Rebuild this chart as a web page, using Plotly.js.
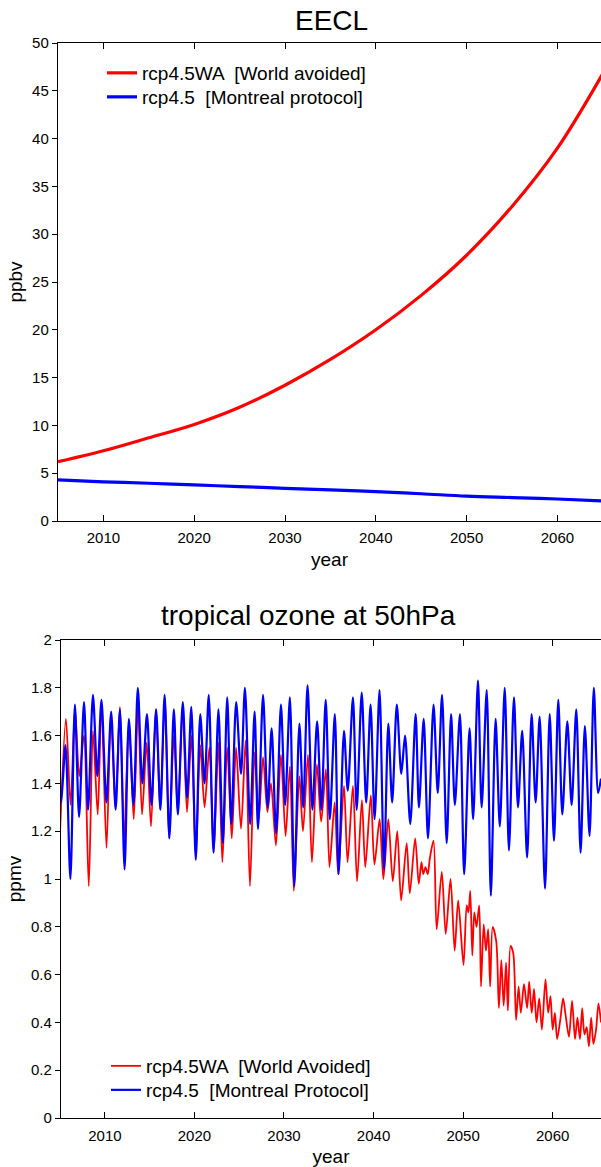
<!DOCTYPE html>
<html><head><meta charset="utf-8">
<script src="https://cdn.plot.ly/plotly-3.0.1.min.js"></script>
<style>html,body{margin:0;padding:0;background:#fff}#chart{width:601px;height:1167px}</style>
</head><body><div id="chart"></div>
<script>
// ---- EECL (ppbv), read every 5 years ----
const eeclYears = [2005, 2010, 2015, 2020, 2025, 2030, 2035, 2040, 2045, 2050, 2055, 2060, 2065];
const eeclWorldAvoided = [6.2, 7.35, 8.7, 10.1, 11.9, 14.2, 16.9, 20.0, 23.6, 27.8, 32.9, 39.0, 46.8];
const eeclMontreal = [4.3, 4.1, 3.95, 3.77, 3.6, 3.42, 3.25, 3.07, 2.85, 2.6, 2.45, 2.3, 2.1];

// ---- tropical ozone at 50hPa (ppmv), turning points ----
const ozoneMPTime = [2005.00,2005.12,2005.60,2006.15,2006.65,2007.12,2007.67,2008.12,2008.67,2009.16,2009.62,
 2010.17,2010.70,2011.20,2011.68,2012.20,2012.68,2013.20,2013.68,2014.18,2014.70,2015.20,2015.72,2016.20,2016.67,
 2017.20,2017.70,2018.15,2018.70,2019.18,2019.65,2020.15,2020.65,2021.13,2021.60,2022.13,2022.68,2023.17,2023.66,
 2024.12,2024.66,2025.20,2025.64,2026.22,2026.72,2027.10,2027.66,2028.18,2028.62,2029.12,2029.66,2030.13,2030.66,
 2031.15,2031.72,2032.15,2032.63,2033.17,2033.70,2034.17,2034.66,2035.12,2035.68,2036.10,2036.70,2037.12,2037.70,
 2038.12,2038.68,2039.18,2039.67,2040.12,2040.67,2041.17,2041.65,2042.08,2042.60,2043.10,2043.52,2044.10,2044.70,
 2045.07,2045.60,2046.08,2046.70,2047.17,2047.65,2048.17,2048.66,2049.08,2049.65,2050.12,2050.72,2051.12,2051.66,
 2052.07,2052.64,2053.10,2053.63,2054.10,2054.65,2055.12,2055.68,2056.13,2056.60,2057.15,2057.65,2058.10,2058.55,
 2059.15,2059.67,2060.15,2060.63,2061.08,2061.64,2062.12,2062.64,2063.12,2063.60,2064.12,2064.60,2065.08,2065.40];
const ozoneMP = [1.35,1.32,1.56,1.00,1.73,1.26,1.74,1.29,1.77,1.43,1.75,
 1.32,1.70,1.29,1.71,1.04,1.67,1.31,1.80,1.40,1.69,1.31,1.71,1.29,1.77,
 1.17,1.71,1.27,1.74,1.34,1.72,1.08,1.69,1.40,1.77,1.11,1.71,1.15,1.76,
 1.23,1.74,1.44,1.80,1.23,1.70,1.21,1.77,1.30,1.63,1.19,1.73,1.31,1.76,
 0.97,1.65,1.30,1.81,1.29,1.66,1.29,1.75,1.25,1.69,1.02,1.62,1.37,1.76,
 1.29,1.78,1.32,1.73,1.25,1.79,1.04,1.65,1.32,1.73,1.44,1.60,1.23,1.69,
 1.30,1.67,1.17,1.73,1.36,1.77,1.15,1.69,1.31,1.69,1.02,1.63,1.25,1.83,
 1.30,1.79,0.93,1.67,1.22,1.80,1.12,1.76,1.30,1.62,1.09,1.69,1.32,1.68,
 0.96,1.69,1.16,1.75,1.27,1.66,1.31,1.71,1.11,1.64,1.18,1.80,1.36,1.42];

const ozoneWATime = [2005.00,2005.65,2006.17,2006.66,2007.14,2007.66,2008.20,2008.67,2009.20,2009.62,
 2010.18,2010.68,2011.18,2011.68,2012.15,2012.68,2013.22,2013.70,2014.15,2014.67,2015.15,2015.70,2016.18,2016.70,
 2017.18,2017.70,2018.15,2018.67,2019.17,2019.67,2020.15,2020.65,2021.13,2021.67,2022.15,2022.68,2023.12,2023.66,
 2024.17,2024.65,2025.20,2025.72,2026.20,2026.72,2027.18,2027.66,2028.15,2028.55,2029.10,2029.66,2030.18,2030.66,
 2031.10,2031.72,2032.12,2032.68,2033.12,2033.68,2034.15,2034.68,2035.08,2035.66,2036.05,2036.70,2037.10,2037.70,
 2038.16,2038.70,2039.08,2039.70,2040.10,2040.68,2041.10,2041.65,2042.15,2042.65,2043.08,2043.70,2044.05,2044.65,
 2045.05,2045.35,2045.55,2045.80,2046.05,2046.30,2046.70,2047.05,2047.62,2048.06,2048.60,2049.06,2049.45,
 2050.05,2050.40,2050.60,2050.80,2051.03,2051.25,2051.50,2051.80,2052.00,2052.30,2052.55,2052.80,
 2053.02,2053.30,2053.70,2054.00,2054.27,2054.53,2054.80,2055.00,2055.30,2055.60,2055.92,2056.20,2056.45,2056.80,
 2057.15,2057.38,2057.66,2057.92,2058.20,2058.50,2058.80,2059.20,2059.50,2059.76,2060.00,2060.25,2060.50,2060.85,
 2061.17,2061.45,2061.82,2062.17,2062.50,2062.77,2063.05,2063.30,2063.55,2063.80,2064.05,2064.30,2064.55,2064.85,
 2065.12,2065.40];
const ozoneWA = [1.20,1.67,1.31,1.71,1.43,1.60,0.97,1.62,1.27,1.74,
 1.13,1.69,1.30,1.72,1.17,1.66,1.25,1.73,1.27,1.57,1.22,1.71,1.29,1.76,
 1.17,1.60,1.28,1.72,1.28,1.60,1.09,1.56,1.30,1.55,1.11,1.57,1.07,1.55,
 1.17,1.55,1.21,1.58,0.97,1.53,1.25,1.51,1.28,1.40,1.14,1.52,1.18,1.47,
 0.95,1.43,1.20,1.52,1.07,1.48,1.24,1.46,1.05,1.32,1.02,1.39,1.07,1.39,
 0.99,1.33,1.05,1.35,1.06,1.25,1.00,1.25,0.99,1.20,0.91,1.15,0.94,1.17,
 0.98,1.07,1.02,1.05,1.02,1.09,1.16,0.79,1.03,0.77,1.00,0.70,0.91,
 0.64,0.89,0.86,0.95,0.68,0.86,0.80,0.89,0.55,0.81,0.70,0.79,
 0.55,0.80,0.74,0.46,0.66,0.47,0.65,0.45,0.72,0.69,0.41,0.55,0.44,0.56,
 0.46,0.57,0.44,0.54,0.40,0.50,0.37,0.58,0.44,0.51,0.37,0.44,0.33,0.41,
 0.50,0.43,0.34,0.49,0.33,0.42,0.33,0.46,0.35,0.38,0.30,0.42,0.31,0.37,
 0.48,0.40];

const decadeTicks = [2010, 2020, 2030, 2040, 2050, 2060];
const legendNames = ['rcp4.5WA  [World avoided]', 'rcp4.5  [Montreal protocol]',
                     'rcp4.5WA  [World Avoided]', 'rcp4.5  [Montreal Protocol]'];
const RED = '#ff0000', BLUE = '#0000ff';
const FONT = 'Liberation Sans, Arial, sans-serif';

const traces = [
  {x: eeclYears, y: eeclWorldAvoided, xaxis: 'x', yaxis: 'y', mode: 'lines', name: legendNames[0],
   line: {color: RED, width: 3.2, shape: 'spline'}, legend: 'legend'},
  {x: eeclYears, y: eeclMontreal, xaxis: 'x', yaxis: 'y', mode: 'lines', name: legendNames[1],
   line: {color: BLUE, width: 3.2, shape: 'spline'}, legend: 'legend2'},
  {x: ozoneWATime, y: ozoneWA, xaxis: 'x2', yaxis: 'y2', mode: 'lines', name: legendNames[2],
   line: {color: RED, width: 1.8, shape: 'spline', smoothing: 0.8}, legend: 'legend3'},
  {x: ozoneMPTime, y: ozoneMP, xaxis: 'x2', yaxis: 'y2', mode: 'lines', name: legendNames[3],
   line: {color: BLUE, width: 2.2, shape: 'spline', smoothing: 0.8}, legend: 'legend4'}
];

const W = 601, H = 1167;
const axBase = {showgrid: false, zeroline: false, showline: true, linecolor: '#000', linewidth: 1.2,
  tickcolor: '#000', tickfont: {family: FONT, size: 15, color: '#000'}, automargin: false};
const legBase = {xanchor: 'left', yanchor: 'middle', bgcolor: 'rgba(0,0,0,0)', borderwidth: 0,
  font: {family: FONT, size: 19, color: '#000'}};

const layout = {
  width: W, height: H, margin: {l: 0, r: 0, t: 0, b: 0},
  paper_bgcolor: '#fff', plot_bgcolor: '#fff', font: {family: FONT, color: '#000'},
  xaxis: Object.assign({}, axBase, {domain: [58 / W, 1], range: [2005, 2064.8], tickvals: decadeTicks,
    ticks: 'inside', ticklen: 6, mirror: 'ticks', anchor: 'y', ticklabelstandoff: 3,
    title: {text: 'year', font: {family: FONT, size: 19}, standoff: 7}}),
  yaxis: Object.assign({}, axBase, {domain: [1 - 521 / H, 1 - 43 / H], range: [0, 50], dtick: 5,
    ticks: 'outside', ticklen: 5, anchor: 'x',
    title: {text: 'ppbv', font: {family: FONT, size: 19}, standoff: 4}}),
  xaxis2: Object.assign({}, axBase, {domain: [61 / W, 1], range: [2005.1, 2065.4], tickvals: decadeTicks,
    ticks: 'inside', ticklen: 6, mirror: 'ticks', anchor: 'y2', ticklabelstandoff: 4,
    title: {text: 'year', font: {family: FONT, size: 19}, standoff: 6}}),
  yaxis2: Object.assign({}, axBase, {domain: [1 - 1118 / H, 1 - 640 / H], range: [0, 2], dtick: 0.2,
    ticks: 'outside', ticklen: 5, anchor: 'x2',
    title: {text: 'ppmv', font: {family: FONT, size: 19}, standoff: 4}}),
  legend:  Object.assign({}, legBase, {x: 102 / W, y: 1 - 73 / H}),
  legend2: Object.assign({}, legBase, {x: 102 / W, y: 1 - 97 / H}),
  legend3: Object.assign({}, legBase, {x: 106 / W, y: 1 - 1066 / H}),
  legend4: Object.assign({}, legBase, {x: 106 / W, y: 1 - 1090 / H}),
  showlegend: true,
  annotations: [
    {text: 'EECL', xref: 'paper', yref: 'paper', x: 331 / W, y: 1 - 20 / H, xanchor: 'center', yanchor: 'middle',
     showarrow: false, font: {family: FONT, size: 28, color: '#000'}},
    {text: 'tropical ozone at 50hPa', xref: 'paper', yref: 'paper', x: 308 / W, y: 1 - 615 / H,
     xanchor: 'center', yanchor: 'middle', showarrow: false, font: {family: FONT, size: 28, color: '#000'}}
  ]
};

Plotly.newPlot('chart', traces, layout, {staticPlot: true, displayModeBar: false});
</script>
</body></html>
